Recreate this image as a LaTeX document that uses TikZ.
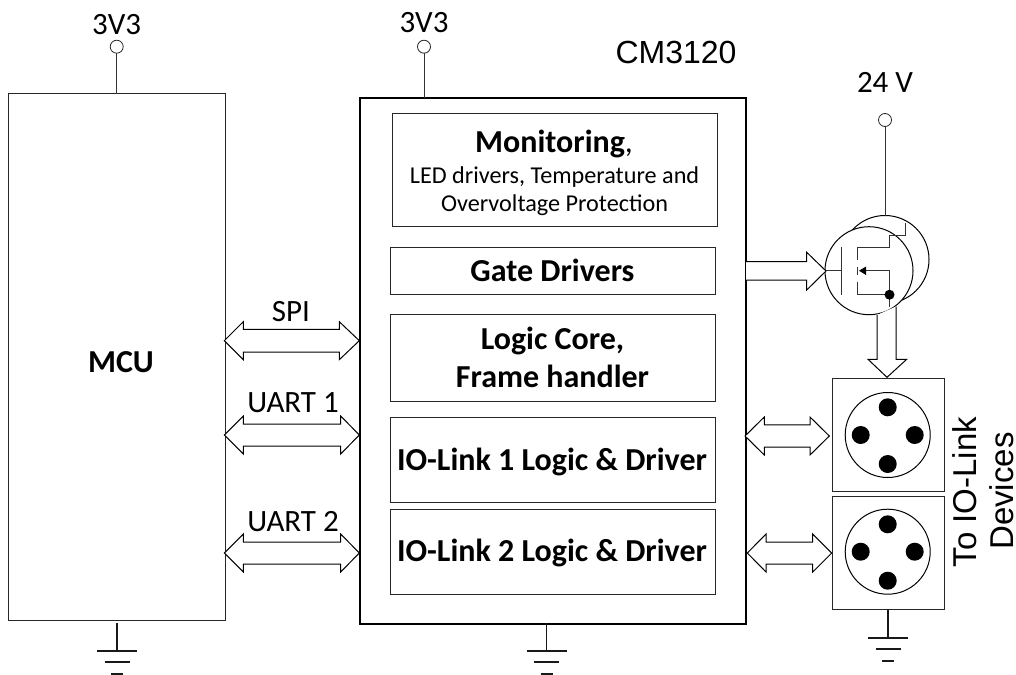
\documentclass[tikz,border=0pt]{standalone}
\usepackage{fontspec}
\setmainfont{Carlito}
\newfontfamily\arialf{Liberation Sans}
\usetikzlibrary{calc}
\tikzset{
  x=1pt,y=-1pt,
  every node/.style={inner sep=0pt,outer sep=0pt},
  thinbox/.style={draw=black!85,line width=1pt,fill=white,anchor=north west,align=center},
  chipbox/.style={draw=black,line width=2pt,anchor=north west},
  wire/.style={draw=black!80,line width=1pt},
  blockarrow/.style={draw=black,line width=1pt,fill=white,line join=miter},
  rail/.style={circle,draw=black!85,line width=0.8pt,fill=white,minimum size=13pt},
  disc/.style={circle,draw=black,line width=1pt,fill=white,minimum size=85pt},
  fet/.style={circle,draw=black,line width=1pt,fill=white,minimum size=88pt},
  pin/.style={circle,fill=black,minimum size=18pt},
  lab/.style={font=\fontsize{31}{34}\selectfont},
  arlab/.style={font=\arialf\fontsize{32}{38}\selectfont},
  bigbold/.style={font=\fontsize{32}{36}\selectfont\bfseries,anchor=base},
  small/.style={font=\fontsize{24.2}{30}\selectfont,anchor=base},
}
\newcommand{\dblblock}[7]{%
  \draw[blockarrow] (#1,#5) -- (#2,#5-#7) -- (#2,#5-#6) -- (#3,#5-#6) -- (#3,#5-#7) -- (#4,#5)
    -- (#3,#5+#7) -- (#3,#5+#6) -- (#2,#5+#6) -- (#2,#5+#7) -- cycle;}
\newcommand{\gndsym}[3]{%
  \coordinate (#1bar) at (#2,#3);
  \draw[line width=1.5pt,black!90] (#1) -- (#1bar);
  \draw[line width=1.5pt,black!90] ($(#1bar)+(-20,0)$) -- ($(#1bar)+(20,0)$);
  \draw[line width=1.5pt,black!90] ($(#1bar)+(-12.5,11)$) -- ($(#1bar)+(12.5,11)$);
  \draw[line width=1.5pt,black!90] ($(#1bar)+(-6,23)$) -- ($(#1bar)+(6,23)$);}
\begin{document}
\begin{tikzpicture}
\useasboundingbox (0,0) rectangle (1016,674);

\node[thinbox,minimum width=217.5pt,minimum height=526pt] (mcu) at (8,94) {};
\node[bigbold] (mcutext) at (121,372) {MCU};
\node[chipbox,minimum width=386pt,minimum height=525pt] (chip) at (360,98.5) {};
\node[arlab,anchor=base] (chipname) at (676,64) {CM3120};

\node[thinbox,minimum width=325pt,minimum height=112.7pt] (mon) at (392,114) {};
\node[font=\fontsize{32}{36}\selectfont,anchor=base] (montitle) at (554,152.5) {\textbf{Monitoring},};
\node[small] (monl1) at (554.5,183.3) {LED drivers, Temperature and};
\node[small] (monl2) at (554.5,211) {Overvoltage Protection};
\node[thinbox,minimum width=325pt,minimum height=47pt] (gate) at (390.5,247.3) {};
\node[bigbold] (gatetext) at (552.5,281.5) {Gate Drivers};
\node[thinbox,minimum width=325pt,minimum height=87.4pt] (core) at (390.5,314.3) {};
\node[bigbold] (coret1) at (552.5,349) {Logic Core,};
\node[bigbold] (coret2) at (552.5,387.5) {Frame handler};
\node[thinbox,minimum width=325pt,minimum height=85pt] (io1) at (390.5,417.7) {};
\node[bigbold] (io1t) at (552,470.5) {IO-Link 1 Logic \& Driver};
\node[thinbox,minimum width=325pt,minimum height=85.3pt] (io2) at (390.5,509) {};
\node[bigbold] (io2t) at (552,561) {IO-Link 2 Logic \& Driver};

\node[rail] (va) at (116.7,46.7) {};
\node[rail] (vb) at (424,46.7) {};
\node[rail] (vc) at (885,120) {};
\node[lab,anchor=base] (vat) at (116.7,35) {3V3};
\node[lab,anchor=base] (vbt) at (424,33) {3V3};
\node[lab,anchor=base] (vct) at (885,93) {24 V};
\coordinate (mcutop) at (116.7,94);
\coordinate (chiptop) at (424,98.5);
\draw[wire] (va) -- (mcutop);
\draw[wire] (vb) -- (chiptop);

\node[fet] (fetb) at (885,259.5) {};
\draw[wire] (vc) -- (fetb.north);
\node[fet] (fetf) at (869,270.7) {};
\coordinate (gin) at (841.3,270.7);
\draw[wire] (fetf.west) -- (gin);
\draw[wire] (841.3,246.7) -- (841.3,294.7);
\draw[wire] (857.3,246.7) -- (857.3,260);
\draw[wire] (857.3,267) -- (857.3,275);
\draw[wire] (857.3,281.7) -- (857.3,294.7);
\draw[wire] (857.3,247) -- (889,247) -- (889,235) -- (905,235) -- (905,223);
\draw[wire] (857.3,294.7) -- (889,294.7);
\draw[wire] (866,270.7) -- (889,270.7) -- (889,306.7);
\fill[black] (859,270.7) -- (866,266.5) -- (866,275) -- cycle;
\fill[black] (889.5,294.7) circle (5);

\node[thinbox,minimum width=112pt,minimum height=113.7pt] (cona) at (832,378) {};
\node[thinbox,minimum width=112pt,minimum height=113pt] (conb) at (832,496.3) {};
\node[disc] (da) at (887.7,435) {};
\node[disc] (db) at (887.7,551.7) {};
\node[pin] (da1) at (887.7,407.3) {};
\node[pin] (da2) at (887.7,464) {};
\node[pin] (da3) at (860.7,435) {};
\node[pin] (da4) at (914.7,435) {};
\node[pin] (db1) at (887.7,524.3) {};
\node[pin] (db2) at (887.7,580.7) {};
\node[pin] (db3) at (860.7,551.7) {};
\node[pin] (db4) at (914.7,551.7) {};
\node[rotate=90,anchor=base,font=\arialf\fontsize{33}{38}\selectfont] (todev) at (976.5,492) {To IO-Link};
\node[rotate=90,anchor=base,font=\arialf\fontsize{33}{38}\selectfont] (todev2) at (1013.5,491) {Devices};

\draw[blockarrow] (746,261.7) -- (806.7,261.7) -- (806.7,252.3) -- (826,271) -- (806.7,290) -- (806.7,280) -- (746,280);
\draw[blockarrow] (877,315) -- (877,359.3) -- (868,359.3) -- (887,377.3) -- (906.7,359.3) -- (896,359.3) -- (896,306.5);
\dblblock{224.3}{243.3}{339.3}{359.3}{340.7}{11.3}{19}
\dblblock{224.3}{243.3}{340.7}{359.3}{435}{11}{19}
\dblblock{224.3}{243.3}{340.7}{359.3}{553}{11}{19}
\dblblock{745}{764.3}{810}{829.3}{436}{11.2}{19}
\dblblock{747.3}{766}{812.7}{831.7}{553}{11}{19}
\node[lab,anchor=base] (spi) at (291,321) {SPI};
\node[lab,anchor=base] (u1) at (293,412) {UART 1};
\node[lab,anchor=base] (u2) at (293,531) {UART 2};

\coordinate (ga) at (117,623);
\coordinate (gb) at (546.6,623);
\coordinate (gc) at (888,609.3);
\gndsym{ga}{117}{651}
\gndsym{gb}{546.6}{651}
\gndsym{gc}{888}{638}
\end{tikzpicture}
\end{document}
